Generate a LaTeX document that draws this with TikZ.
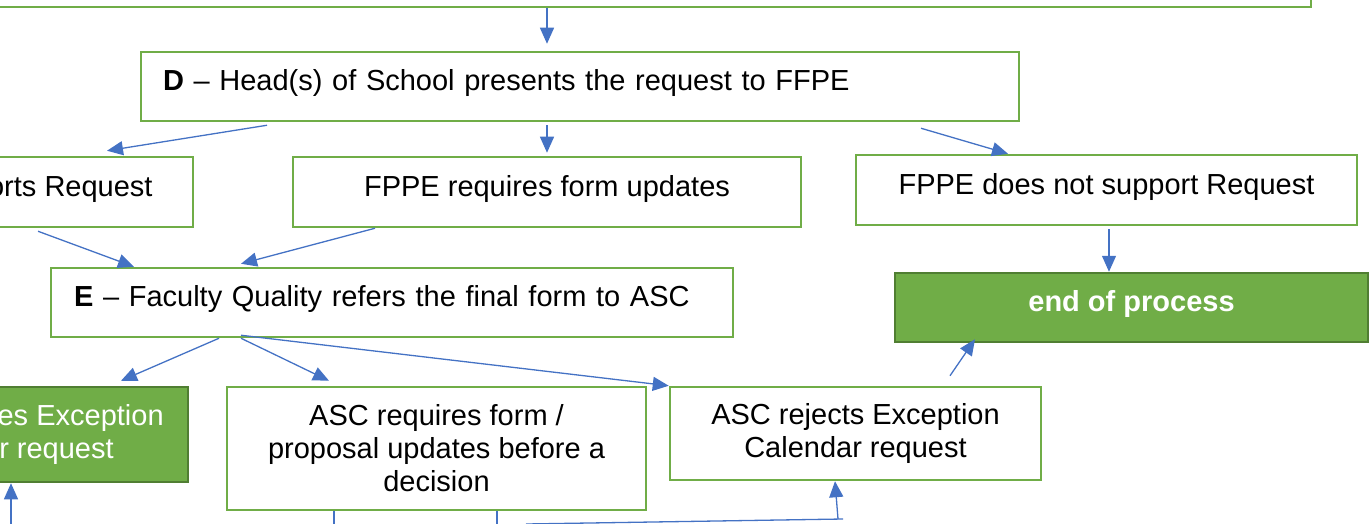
\documentclass[tikz,border=0pt]{standalone}
\usepackage{fontspec}
\setmainfont{Liberation Sans}
\usepackage{tikz}
\usetikzlibrary{arrows.meta, positioning}

\definecolor{boxgreen}{HTML}{70AD47}
\definecolor{darkgreen}{HTML}{507E32}
\definecolor{arrowblue}{HTML}{4472C4}

\tikzset{
    flowbox/.style={draw=boxgreen, line width=2.5pt, fill=white, font=\fontsize{29}{33}\selectfont},
    finalbox/.style={draw=darkgreen, line width=2.5pt, fill=boxgreen, text=white, font=\fontsize{29}{33}\selectfont},
    oneline/.style={text height=20pt, text depth=12pt},
    flowline/.style={draw=arrowblue, line width=1.3pt},
    flowarrow/.style={flowline, -{Triangle[length=16pt, width=14pt]}},
}

\begin{document}
\begin{tikzpicture}[x=1pt, y=-1pt]

\useasboundingbox (0,0) rectangle (1370,524);
\clip (0,0) rectangle (1370,524);

\node [flowbox,
    minimum width=1332pt,
    minimum height=48pt
] (topbox) at (645,-17) {};

\node [flowbox, oneline,
    text width=834pt,
    inner xsep=22pt,
    minimum height=69pt,
    align=left
] (dbox) at (580,86.5) {\textbf{D} – Head(s) of School presents the request to FFPE};

% FPPE outcomes
\node [flowbox, oneline,
    minimum width=392pt,
    minimum height=70pt
] (supbox) at (-3,192) {FPPE supports Request};

\node [flowbox, oneline,
    minimum width=508pt,
    minimum height=70pt
] (reqbox) at (547,192) {FPPE requires form updates};

\node [flowbox, oneline,
    minimum width=501pt,
    minimum height=70pt
] (notbox) at (1106.5,190) {FPPE does not support Request};

\node [flowbox, oneline,
    text width=636pt,
    inner xsep=23pt,
    minimum height=69pt,
    align=left
] (ebox) at (392,302.5) {\textbf{E} – Faculty Quality refers the final form to ASC};

\node [finalbox, oneline,
    minimum width=473pt,
    minimum height=69pt
] (endbox) at (1131.5,307.5) {\textbf{end of process}};

% ASC outcomes
\node [finalbox,
    minimum width=371pt,
    minimum height=95pt,
    align=center
] (apprbox) at (2.5,434.5) {ASC approves Exception\\Calendar request};

\node [flowbox,
    minimum width=419pt,
    minimum height=123pt,
    align=center
] (updbox) at (436.5,448.5) {ASC requires form /\\proposal updates before a\\decision};

\node [flowbox,
    minimum width=371pt,
    minimum height=93pt,
    align=center
] (rejbox) at (855.5,433.5) {ASC rejects Exception\\Calendar request};

% connectors
\draw [flowarrow, shorten >=7pt] (topbox.south -| reqbox.north) -- (dbox.north -| reqbox.north);
\draw [flowarrow] ([xshift=-313pt, yshift=-3pt]dbox.south) -- ([xshift=110pt, yshift=5pt]supbox.north);
\draw [flowarrow, shorten <=3pt, shorten >=3pt] (dbox.south -| reqbox.north) -- (reqbox.north);
\draw [flowarrow] ([xshift=341pt, yshift=-6pt]dbox.south) -- ([xshift=-98.5pt]notbox.north);
\draw [flowarrow] ([xshift=41pt, yshift=-3pt]supbox.south) -- ([xshift=-258pt]ebox.north);
\draw [flowarrow] ([xshift=-172pt]reqbox.south) -- ([xshift=-151pt, yshift=3pt]ebox.north);
\draw [flowarrow, shorten <=3pt] ([xshift=2.5pt]notbox.south) -- ([xshift=2.5pt]endbox.north -| notbox.south);
\draw [flowarrow] ([xshift=-173pt]ebox.south) -- ([xshift=118.5pt, yshift=5pt]apprbox.north);
\draw [flowarrow] ([xshift=-151pt]ebox.south) -- ([xshift=-107.5pt, yshift=5pt]updbox.north);
\draw [flowarrow] ([xshift=-151pt, yshift=3pt]ebox.south) -- (rejbox.north west);
\draw [flowarrow] ([xshift=94.5pt, yshift=10pt]rejbox.north) -- ([xshift=-156.5pt, yshift=4pt]endbox.south);

% lines running below the picture
\coordinate (apprin) at (11,530);
\coordinate (updout1) at (334,530);
\coordinate (updout2) at (497,530);
\coordinate (rejin) at (526,524);
\coordinate (rejbend) at (843,519);

\draw [flowarrow] (apprin) -- (apprin |- apprbox.south);
\draw [flowline] (updbox.south -| updout1) -- (updout1);
\draw [flowline] (updbox.south -| updout2) -- (updout2);
\draw [flowline] (rejin) -- (rejbend);
\draw [flowarrow] ([xshift=-5pt]rejbend) -- ([xshift=-20.5pt]rejbox.south);

\end{tikzpicture}
\end{document}
